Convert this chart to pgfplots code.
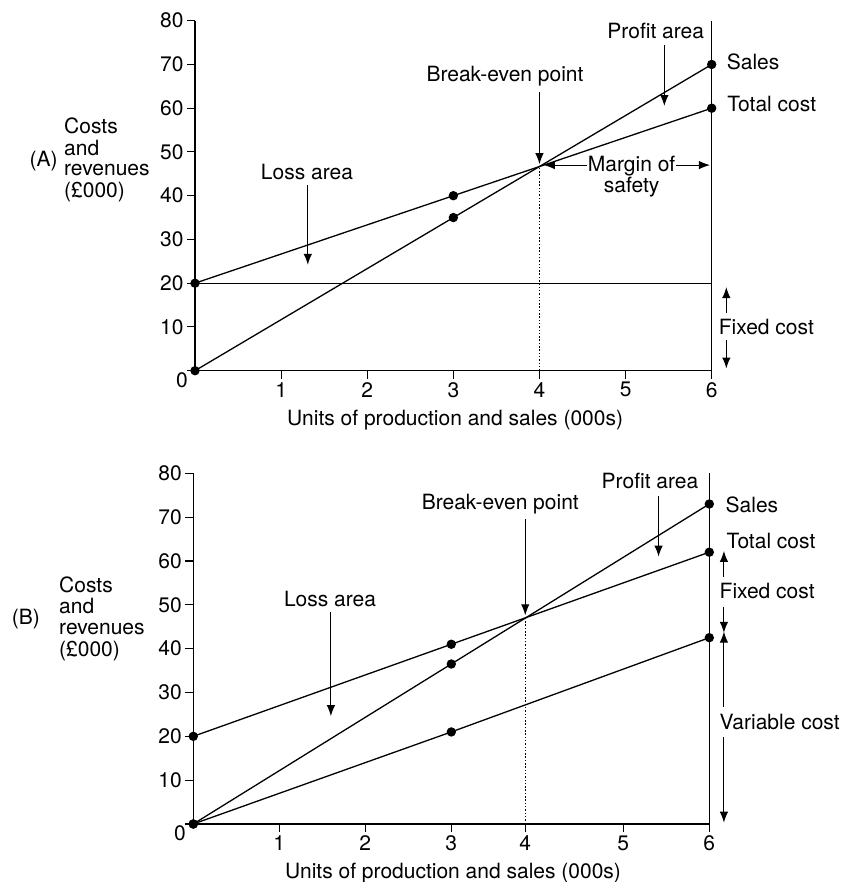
\documentclass[border=0pt]{standalone}
\usepackage{fontspec}
\setmainfont{TeX Gyre Heros}
\usepackage{pgfplots}
\pgfplotsset{compat=1.18}
\usetikzlibrary{arrows.meta}
\newcommand\f{\fontsize{21bp}{21.5bp}\selectfont}
\tikzset{ar/.style={line width=1.1bp, black, -{Latex[length=11bp,width=8.5bp]}}}
\begin{document}
\begin{tikzpicture}[font=\f, every node/.append style={font=\f}]
\useasboundingbox (0,0) rectangle (841bp,882bp);
\pgfplotsset{
  be/.style={
    scale only axis, anchor=south west,
    xmin=0, xmax=6, ymin=0, ymax=80,
    axis x line=bottom, axis y line=left,
    axis line style={-, line width=1.3bp, black},
    every outer x axis line/.append style={-},
    every outer y axis line/.append style={-},
    tick align=outside, major tick length=8bp,
    tick style={line width=1.1bp, black},
    ytick={0,10,20,30,40,50,60,70,80},
    yticklabels={{},10,20,30,40,50,60,70,80},
    tick label style={font=\f},
    /pgf/number format/assume math mode=true,
    clip=false,
  },
  ln/.style={line width=1.3bp, black, mark=*, mark size=4bp, mark options={solid, fill=black}},
  pl/.style={line width=1.3bp, black, no marks},
  dt/.style={line width=1.2bp, black, no marks, dash pattern=on 1.5bp off 1.8bp},
}
% ---------------- Panel A ----------------
\begin{axis}[be, at={(195bp,511.3bp)}, width=516.7bp, height=350bp,
  xtick={1,2,3,4,5,6}]
\addplot[pl] coordinates {(6,0) (6,80)};
\addplot[pl] coordinates {(0,20) (6,20)};
\addplot[dt] coordinates {(4,0) (4,46.67)};
\addplot[ln] coordinates {(0,0) (3,35) (6,70)};
\addplot[ln] coordinates {(0,20) (3,40) (6,60)};
\node[anchor=base] at (axis cs:-0.151,-3.8) {0};
\node[anchor=base] at (axis cs:5.35,76.0) {Profit area};
\draw[ar] (axis cs:5.45,74.4) -- (axis cs:5.45,60.5);
\node[anchor=base west] at (axis cs:6.135,68.9) {Sales};
\node[anchor=base west] at (axis cs:6.14,59.3) {Total cost};
\node[anchor=base] at (axis cs:3.60,66.0) {Break-even point};
\draw[ar] (axis cs:4.0,63.8) -- (axis cs:4.0,47.2);
\node[anchor=base] at (axis cs:5.07,45.5) {Margin of};
\node[anchor=base] at (axis cs:5.07,40.8) {safety};
\draw[ar] (axis cs:4.55,47.0) -- (axis cs:4.05,47.0);
\draw[ar] (axis cs:5.59,47.0) -- (axis cs:5.98,47.0);
\node[anchor=base] at (axis cs:6.635,8.2) {Fixed cost};
\draw[ar] (axis cs:6.17,13.2) -- (axis cs:6.17,19.1);
\draw[ar] (axis cs:6.17,7.0) -- (axis cs:6.17,0.5);
\node[anchor=base] at (axis cs:1.30,43.7) {Loss area};
\draw[ar] (axis cs:1.31,42.4) -- (axis cs:1.31,24.2);
\node[anchor=base west] at (axis cs:-1.96,46.6) {(A)};
\node[anchor=base west] at (axis cs:-1.56,54.26) {Costs};
\node[anchor=base west] at (axis cs:-1.56,49.30) {and};
\node[anchor=base west] at (axis cs:-1.56,44.57) {revenues};
\node[anchor=base west] at (axis cs:-1.56,39.63) {(£000)};
\node[anchor=base] at (axis cs:3.02,-12.64) {Units of production and sales (000s)};
\end{axis}
% ---------------- Panel B ----------------
\begin{axis}[be, at={(193.3bp,58bp)}, width=516bp, height=350.7bp,
  xtick={1,2,3,3.86,5,6}, xticklabels={1,2,3,4,5,6}]
\addplot[pl] coordinates {(6,0) (6,80)};
\addplot[dt] coordinates {(3.86,0) (3.86,47.1)};
\addplot[ln] coordinates {(0,0) (3,36.5) (6,73)};
\addplot[ln] coordinates {(0,20) (3,41) (6,62)};
\addplot[ln] coordinates {(0,0) (3,21) (6,42.5)};
\node[anchor=base] at (axis cs:-0.155,-3.65) {0};
\node[anchor=base] at (axis cs:5.31,76.6) {Profit area};
\draw[ar] (axis cs:5.41,74.8) -- (axis cs:5.41,61);
\node[anchor=base] at (axis cs:3.57,71.8) {Break-even point};
\draw[ar] (axis cs:3.86,69.6) -- (axis cs:3.86,47.6);
\node[anchor=base west] at (axis cs:6.15,71.0) {Sales};
\node[anchor=base west] at (axis cs:6.16,62.8) {Total cost};
\node[anchor=base west] at (axis cs:6.08,51.4) {Fixed cost};
\node[anchor=base west] at (axis cs:6.08,21.5) {Variable cost};
\draw[ar] (axis cs:6.17,56.4) -- (axis cs:6.17,62.3);
\draw[ar] (axis cs:6.17,49.6) -- (axis cs:6.17,43.6);
\draw[ar] (axis cs:6.17,26.8) -- (axis cs:6.17,43.9);
\draw[ar] (axis cs:6.17,19.9) -- (axis cs:6.17,0.3);
\node[anchor=base] at (axis cs:1.59,49.7) {Loss area};
\draw[ar] (axis cs:1.60,48.3) -- (axis cs:1.60,24.6);
\node[anchor=base west] at (axis cs:-2.15,45.4) {(B)};
\node[anchor=base west] at (axis cs:-1.60,52.8) {Costs};
\node[anchor=base west] at (axis cs:-1.60,48.1) {and};
\node[anchor=base west] at (axis cs:-1.60,43.3) {revenues};
\node[anchor=base west] at (axis cs:-1.60,38.3) {(£000)};
\node[anchor=base] at (axis cs:3.02,-12.4) {Units of production and sales (000s)};
\end{axis}
\end{tikzpicture}
\end{document}
